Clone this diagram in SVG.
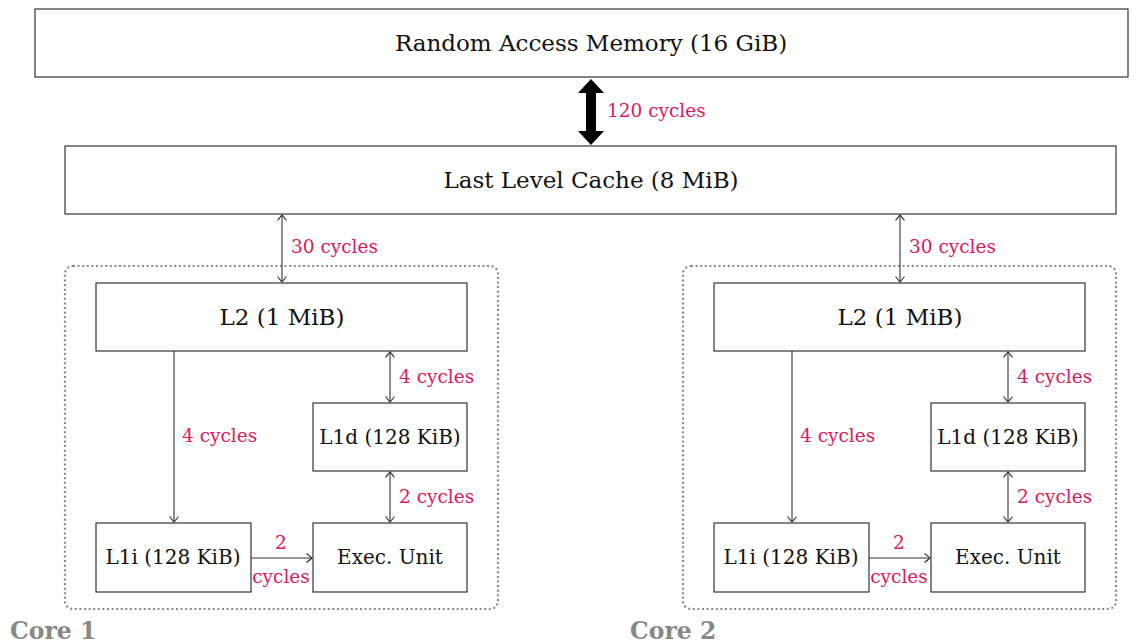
<svg xmlns="http://www.w3.org/2000/svg" width="1143" height="643" viewBox="0 0 1143 643">
<style>
.box{fill:#fff;stroke:#222;stroke-width:1.1}
.t{font-family:"DejaVu Serif",serif;fill:#111;text-anchor:middle}
.big{font-size:23px}
.sm{font-size:20px}
.lab{font-family:"DejaVu Serif",serif;fill:#d81b60;font-size:18.5px}
.core{fill:none;stroke:#8a8a8a;stroke-width:2.2;stroke-dasharray:2 2.6}
.corelab{font-family:"DejaVu Serif",serif;font-weight:bold;fill:#888;font-size:23.5px}
.c{stroke:#333;stroke-width:1.1;fill:none}
</style>
<defs>
<marker id="ah" viewBox="-6 -6 12 12" markerWidth="12" markerHeight="12" refX="0" refY="0" orient="auto-start-reverse" markerUnits="userSpaceOnUse">
<path d="M-5.5,-4.5 Q-1,-1 0,0 Q-1,1 -5.5,4.5" fill="none" stroke="#333" stroke-width="1.1"/>
</marker>
</defs>
<g id="ram"><rect class="box" x="35" y="9" width="1093" height="68"/><text class="t big" x="591" y="51">Random Access Memory (16 GiB)</text></g>
<g id="llc"><rect class="box" x="65" y="146" width="1051" height="68"/><text class="t big" x="591" y="188">Last Level Cache (8 MiB)</text></g>
<g id="core1">
<rect class="core" x="65" y="266" width="433" height="343" rx="8"/>
<text class="corelab" x="10" y="639">Core 1</text>
</g>
<g id="core2">
<rect class="core" x="683" y="266" width="433" height="343" rx="8"/>
<text class="corelab" x="630" y="639">Core 2</text>
</g>
<g id="l2a"><rect class="box" x="96" y="283" width="371" height="68"/><text class="t big" x="282" y="325">L2 (1 MiB)</text></g>
<g id="l1da"><rect class="box" x="313" y="403" width="154" height="68"/><text class="t sm" x="390" y="444">L1d (128 KiB)</text></g>
<g id="l1ia"><rect class="box" x="96" y="523" width="155" height="69"/><text class="t sm" x="173" y="564">L1i (128 KiB)</text></g>
<g id="exa"><rect class="box" x="313" y="523" width="154" height="69"/><text class="t sm" x="390" y="564">Exec. Unit</text></g>
<g id="l2b"><rect class="box" x="714" y="283" width="371" height="68"/><text class="t big" x="900" y="325">L2 (1 MiB)</text></g>
<g id="l1db"><rect class="box" x="931" y="403" width="154" height="68"/><text class="t sm" x="1008" y="444">L1d (128 KiB)</text></g>
<g id="l1ib"><rect class="box" x="714" y="523" width="155" height="69"/><text class="t sm" x="791" y="564">L1i (128 KiB)</text></g>
<g id="exb"><rect class="box" x="931" y="523" width="154" height="69"/><text class="t sm" x="1008" y="564">Exec. Unit</text></g>
<g id="connectors">
<polygon points="591,79 604,93 596,93 596,131 604,131 591,145 578,131 586,131 586,93 578,93" fill="#000"/>
<text class="lab" x="607" y="117">120 cycles</text>
<line class="c" x1="282" y1="215" x2="282" y2="282" marker-start="url(#ah)" marker-end="url(#ah)"/>
<text class="lab" x="291" y="253">30 cycles</text>
<line class="c" x1="174" y1="351" x2="174" y2="522" marker-end="url(#ah)"/>
<text class="lab" x="182" y="442">4 cycles</text>
<line class="c" x1="390" y1="352" x2="390" y2="402" marker-start="url(#ah)" marker-end="url(#ah)"/>
<text class="lab" x="399" y="383">4 cycles</text>
<line class="c" x1="390" y1="472" x2="390" y2="522" marker-start="url(#ah)" marker-end="url(#ah)"/>
<text class="lab" x="399" y="503">2 cycles</text>
<line class="c" x1="251" y1="558" x2="312" y2="558" marker-end="url(#ah)"/>
<text class="lab" x="281" y="549" text-anchor="middle">2</text>
<text class="lab" x="281" y="583" text-anchor="middle">cycles</text>
<line class="c" x1="900" y1="215" x2="900" y2="282" marker-start="url(#ah)" marker-end="url(#ah)"/>
<text class="lab" x="909" y="253">30 cycles</text>
<line class="c" x1="792" y1="351" x2="792" y2="522" marker-end="url(#ah)"/>
<text class="lab" x="800" y="442">4 cycles</text>
<line class="c" x1="1008" y1="352" x2="1008" y2="402" marker-start="url(#ah)" marker-end="url(#ah)"/>
<text class="lab" x="1017" y="383">4 cycles</text>
<line class="c" x1="1008" y1="472" x2="1008" y2="522" marker-start="url(#ah)" marker-end="url(#ah)"/>
<text class="lab" x="1017" y="503">2 cycles</text>
<line class="c" x1="869" y1="558" x2="930" y2="558" marker-end="url(#ah)"/>
<text class="lab" x="899" y="549" text-anchor="middle">2</text>
<text class="lab" x="899" y="583" text-anchor="middle">cycles</text>
</g>
</svg>
